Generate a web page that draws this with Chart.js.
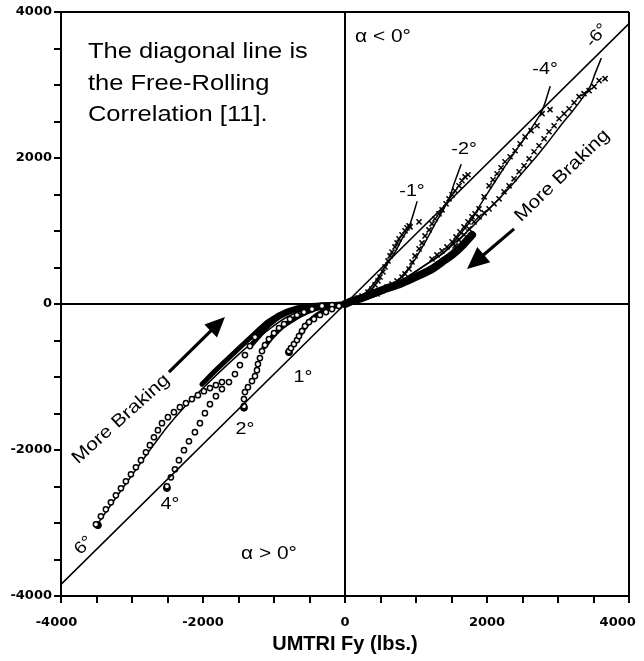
<!DOCTYPE html>
<html><head><meta charset="utf-8">
<script src="https://cdn.jsdelivr.net/npm/chart.js@4.4.1/dist/chart.umd.min.js"></script>
<style>html,body{margin:0;padding:0;background:#fff}#wrap{width:644px;height:661px;position:relative}</style>
</head><body><div id="wrap"><canvas id="c" width="644" height="661"></canvas></div>
<script>
// ---------- DATA (lbs) ----------
const axisMin = -4000, axisMax = 4000, tickStep = 500;
const tickLabels = [-4000, -2000, 0, 2000, 4000];

// Free-rolling correlation (diagonal)
const freeRolling = [[-4000,-3840],[4000,3840]];

// Negative slip angles (alpha < 0): measured points
const slipNeg1 = [[99,41],[183,82],[240,110],[324,165],[380,206],[423,261],[465,316],[493,370],[535,439],[564,508],[606,590],[634,659],[662,713],[704,782],[733,837],[761,892],[803,947],[845,1002],[874,1043],[902,1070],[916,1056],[1043,1125]];
const slipNeg2 = [[451,137],[521,178],[592,233],[662,274],[733,316],[803,370],[845,412],[902,480],[944,576],[986,659],[1043,755],[1085,837],[1127,933],[1184,1015],[1226,1098],[1268,1166],[1324,1235],[1367,1290],[1423,1372],[1465,1441],[1508,1495],[1550,1550],[1606,1619],[1648,1688],[1691,1742],[1733,1770]];
const slipNeg4 = [[2888,2662],[2776,2607],[2705,2442],[2621,2374],[2536,2291],[2466,2195],[2395,2099],[2325,2017],[2254,1948],[2198,1866],[2142,1784],[2085,1701],[2029,1619],[1959,1468],[1888,1303],[1832,1235],[1789,1194],[1733,1125],[1677,1056],[1620,988],[1564,919],[1508,851],[1437,782],[1367,727],[1296,672],[1226,617]];
const slipNeg6 = [[3663,3087],[3579,3060],[3508,2977],[3438,2922],[3367,2881],[3297,2840],[3227,2758],[3156,2675],[3086,2607],[3015,2538],[2945,2442],[2874,2360],[2804,2264],[2733,2168],[2663,2085],[2593,1989],[2522,1893],[2452,1811],[2381,1715],[2311,1619],[2240,1537],[2170,1441],[2099,1372],[2029,1303],[1959,1249],[1888,1194],[1818,1125],[1747,1029],[1677,947],[1606,878],[1550,796]];
const brakingNeg = [[1789,947],[1648,796],[1508,672],[1367,576],[1226,480],[1057,398],[902,329],[733,261],[564,206],[380,137],[240,82],[99,41],[0,0]];

// Negative slip angles: fitted curves
const fitNeg1 = [[1014,1399],[902,1056],[803,892],[690,686],[564,508],[423,302],[268,137],[127,55],[0,0]];
const fitNeg2 = [[1634,1907],[1536,1646],[1465,1441],[1367,1262],[1268,1098],[1155,892],[1057,727],[944,549],[803,384],[662,247],[493,137],[310,69],[0,0]];
const fitNeg4 = [[2888,2977],[2776,2648],[2593,2360],[2395,2085],[2212,1825],[2029,1550],[1888,1331],[1789,1166],[1648,988],[1508,823],[1367,686],[1155,549],[944,412],[733,274],[493,137],[240,55],[0,0]];
const fitNeg6 = [[3607,3361],[3522,3156],[3452,2977],[3339,2813],[3198,2634],[3058,2470],[2874,2236],[2705,2031],[2522,1825],[2353,1633],[2170,1441],[2001,1276],[1789,1056],[1578,864],[1367,686],[1155,549],[944,412],[733,274],[493,137],[240,55],[0,0]];

// Positive slip angles (alpha > 0): measured points
const slipPos1 = [[-789,-645],[-761,-604],[-719,-549],[-676,-494],[-648,-439],[-606,-370],[-564,-302],[-507,-247],[-437,-206],[-352,-151],[-268,-110],[-183,-69],[-85,-27]];
const slipPos2 = [[-1423,-1399],[-1423,-1303],[-1409,-1207],[-1367,-1139],[-1310,-1056],[-1268,-988],[-1240,-906],[-1226,-823],[-1198,-741],[-1169,-645],[-1127,-563],[-1071,-480],[-1000,-398],[-930,-329],[-859,-274],[-775,-206],[-676,-151],[-578,-110],[-465,-69],[-324,-27],[-183,-14]];
const slipPos4 = [[-2508,-2497],[-2452,-2374],[-2395,-2264],[-2339,-2140],[-2268,-2003],[-2198,-1880],[-2114,-1756],[-2043,-1633],[-1973,-1495],[-1902,-1372],[-1818,-1262],[-1733,-1166],[-1634,-1070],[-1550,-960],[-1480,-837],[-1409,-700],[-1339,-576],[-1268,-453]];
const slipPos6 = [[-3508,-3018],[-3438,-2909],[-3368,-2813],[-3297,-2717],[-3227,-2621],[-3156,-2524],[-3086,-2428],[-3015,-2332],[-2945,-2236],[-2874,-2140],[-2804,-2031],[-2748,-1934],[-2691,-1825],[-2635,-1729],[-2578,-1633],[-2494,-1550],[-2409,-1482],[-2325,-1413],[-2240,-1358],[-2156,-1303],[-2071,-1249],[-1987,-1194],[-1902,-1152],[-1818,-1111],[-1733,-1070]];
const brakingPos1 = [[-648,-439],[-535,-274],[-395,-151],[-211,-55],[0,0]];
const brakingPos2 = [[-1141,-590],[-1029,-453],[-888,-316],[-719,-206],[-535,-110],[-324,-41],[0,0]];
const brakingPos4 = [[-1310,-549],[-1198,-425],[-1071,-288],[-930,-178],[-747,-96],[-465,-27],[0,0]];
const brakingPos6 = [[-2015,-1098],[-1804,-892],[-1550,-659],[-1310,-439],[-1071,-233],[-817,-96],[-535,-27],[0,0]];
const fitPos6 = [[-3508,-3046],[-3142,-2538],[-2790,-2058],[-2508,-1688],[-2226,-1372],[-1944,-1098],[-1663,-837],[-1381,-590],[-1099,-370],[-817,-178],[-465,-55],[0,0]];
const startPoints = [[-789,-660],[-1423,-1420],[-2508,-2520],[-3480,-3030]];

// ---------- annotations (text, data coords) ----------
const notes = [
  {text:'The diagonal line is', x:-3621, y:3375, size:22, align:'left'},
  {text:'the Free-Rolling', x:-3621, y:2936, size:22, align:'left'},
  {text:'Correlation [11].', x:-3621, y:2511, size:22, align:'left'},
  {text:'\u03b1 < 0\u00b0', x:535, y:3595, size:18},
  {text:'\u03b1 > 0\u00b0', x:-1071, y:-3499, size:18},
  {text:'-1\u00b0', x:944, y:1482, size:17},
  {text:'-2\u00b0', x:1677, y:2058, size:17},
  {text:'-4\u00b0', x:2818, y:3156, size:17},
  {text:'-6\u00b0', x:3551, y:3677, size:17, rot:-50, base:'middle'},
  {text:'1\u00b0', x:-592, y:-1070, size:17},
  {text:'2\u00b0', x:-1409, y:-1784, size:17},
  {text:'4\u00b0', x:-2466, y:-2813, size:17},
  {text:'6\u00b0', x:-3677, y:-3307, size:17, rot:-45, base:'middle'},
  {text:'More Braking', x:3058, y:1756, size:18, rot:-44, base:'middle'},
  {text:'More Braking', x:-3156, y:-1578, size:18, rot:-42, base:'middle'}
];
const arrows = [
  {from:[2381,1029], to:[1719,480], head:22, width:20},
  {from:[-2480,-933], to:[-1691,-178], head:20, width:18}
];

const toXY = a => a.map(p => ({x:p[0], y:p[1]}));
function markers(arr, style){
  const cross = style !== 'circle';
  return {data: toXY(arr), showLine:false, pointStyle: cross ? 'crossRot' : 'circle',
    pointRadius: cross ? 3.6 : 2.6, pointBorderWidth: cross ? 1.5 : 1.5, pointBorderColor:'#000',
    pointBackgroundColor: cross ? '#000' : '#fff', pointHoverRadius:0};
}
function line(arr, w){
  return {data: toXY(arr), showLine:true, pointRadius:0, borderColor:'#000', borderWidth:w,
    tension:0.3, fill:false, borderCapStyle:'round', borderJoinStyle:'round'};
}

const annotPlugin = {
  id:'annot',
  afterDatasetsDraw(chart){
    const ctx = chart.ctx, xs = chart.scales.x, ys = chart.scales.y;
    ctx.save();
    ctx.fillStyle = '#000'; ctx.strokeStyle = '#000';
    notes.forEach(t => {
      ctx.save();
      ctx.translate(xs.getPixelForValue(t.x), ys.getPixelForValue(t.y));
      if (t.rot) ctx.rotate(t.rot * Math.PI / 180);
      ctx.scale(1.16, 1);
      ctx.font = (t.weight||'normal') + ' ' + t.size + 'px "Liberation Sans", Arial, sans-serif';
      ctx.textAlign = t.align || 'center';
      ctx.textBaseline = t.base || 'alphabetic';
      ctx.fillText(t.text, 0, 0);
      ctx.restore();
    });
    arrows.forEach(a => {
      const x0 = xs.getPixelForValue(a.from[0]), y0 = ys.getPixelForValue(a.from[1]);
      const x1 = xs.getPixelForValue(a.to[0]), y1 = ys.getPixelForValue(a.to[1]);
      const ang = Math.atan2(y1 - y0, x1 - x0);
      const bx = x1 - a.head * Math.cos(ang), by = y1 - a.head * Math.sin(ang);
      ctx.lineWidth = 3.2; ctx.lineCap = 'butt';
      ctx.beginPath(); ctx.moveTo(x0, y0); ctx.lineTo(bx + 2*Math.cos(ang), by + 2*Math.sin(ang)); ctx.stroke();
      const nx = -Math.sin(ang) * a.width / 2, ny = Math.cos(ang) * a.width / 2;
      ctx.beginPath(); ctx.moveTo(x1, y1); ctx.lineTo(bx + nx, by + ny); ctx.lineTo(bx - nx, by - ny); ctx.closePath(); ctx.fill();
    });
    ctx.restore();
  }
};

const gridColor = c => {
  const v = c.tick ? c.tick.value : null;
  return (v === 0 || v === axisMax) ? '#000' : 'rgba(0,0,0,0)';
};
function axis(isX){
  return {
    type:'linear', min:axisMin, max:axisMax,
    border:{display:true, color:'#000', width:2},
    grid:{color:gridColor, lineWidth:2, drawTicks:true, tickLength:7, tickColor:'#000', tickWidth:2},
    ticks:{stepSize:tickStep, autoSkip:false, maxRotation:0, color:'#000', padding: isX ? 12 : 2,
      font:{family:'"DejaVu Sans", sans-serif', size:13, weight:'bold'},
      callback: v => {
        if (!tickLabels.includes(v)) return '';
        if (isX && v === axisMax) return String(v) + '     ';
        if (isX && v === axisMin) return String(v) + '  ';
        return String(v);
      }},
    title: isX ? {display:true, text:'UMTRI Fy (lbs.)', color:'#000', padding:{top:0,bottom:5},
      font:{family:'"Liberation Sans", Arial, sans-serif', size:20, weight:'bold'}} : {display:false},
    afterFit: s => {
      if (isX) { s.height = 65; } else { s.width = 61; }
      s.paddingLeft = 0; s.paddingRight = 0; s.paddingTop = 0; s.paddingBottom = 0;
    }
  };
}

new Chart(document.getElementById('c'), {
  type:'scatter',
  data:{datasets:[
    line(freeRolling, 1.6),
    markers(slipNeg1,'cross'), markers(slipNeg2,'cross'), markers(slipNeg4,'cross'), markers(slipNeg6,'cross'),
    line(brakingNeg, 8),
    line(fitNeg1, 1.5), line(fitNeg2, 1.5), line(fitNeg4, 1.5), line(fitNeg6, 1.5),
    markers(slipPos1,'circle'), markers(slipPos2,'circle'), markers(slipPos4,'circle'), markers(slipPos6,'circle'),
    line(brakingPos1, 5), line(brakingPos2, 5), line(brakingPos4, 5), line(brakingPos6, 5),
    line(fitPos6, 1.5),
    {data: toXY(startPoints), showLine:false, pointStyle:'circle', pointRadius:3.5, pointBackgroundColor:'#000', pointBorderColor:'#000'}
  ]},
  options:{
    responsive:false, animation:false, devicePixelRatio:1,
    layout:{padding:{top:12, right:15, bottom:0, left:0}},
    plugins:{legend:{display:false}, tooltip:{enabled:false}},
    scales:{x:axis(true), y:axis(false)}
  },
  plugins:[annotPlugin]
});
</script>
</body></html>
